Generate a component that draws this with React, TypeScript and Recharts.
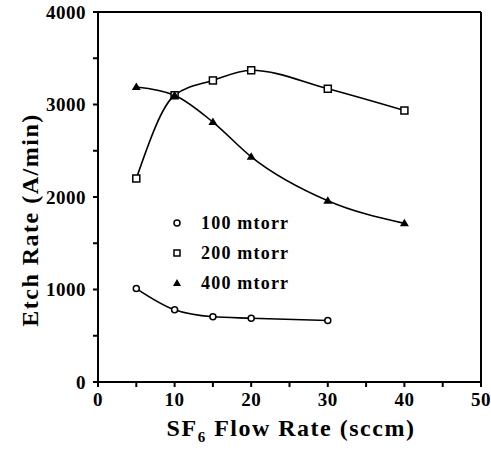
import { Line, LineChart, ReferenceLine, XAxis, YAxis } from "recharts";

const flowRates = [5, 10, 15, 20, 30, 40];
const rate100 = [1010, 780, 705, 690, 665];
const rate200 = [2200, 3100, 3260, 3370, 3170, 2935];
const rate400 = [3190, 3100, 2810, 2435, 1960, 1715];
// major + minor tick positions; minors get no label
const xTicks = [0, 5, 10, 15, 20, 25, 30, 35, 40, 45, 50];
const yTicks = [0, 500, 1000, 1500, 2000, 2500, 3000, 3500, 4000];
const seriesNames = ["100 mtorr", "200 mtorr", "400 mtorr"];

const data = flowRates.map((f, i) => ({
  flow: f,
  p100: rate100[i],
  p200: rate200[i],
  p400: rate400[i],
}));

const FONT = "'Liberation Serif', 'Times New Roman', serif";

function Circle(props: any) {
  const { cx, cy } = props;
  if (cx == null || cy == null) return null;
  return <circle cx={cx} cy={cy} r={3} fill="#fff" stroke="#000" strokeWidth={1.5} />;
}

function Square(props: any) {
  const { cx, cy } = props;
  if (cx == null || cy == null) return null;
  return (
    <rect x={cx - 3.5} y={cy - 3.5} width={7} height={7} fill="#fff" stroke="#000" strokeWidth={1.5} />
  );
}

function Triangle(props: any) {
  const { cx, cy } = props;
  if (cx == null || cy == null) return null;
  return <path d={`M${cx},${cy - 4.5}L${cx + 4.5},${cy + 3}L${cx - 4.5},${cy + 3}Z`} fill="#000" />;
}

// legend drawn inside the plot, like the original figure
function LegendBox() {
  const marks = [
    <circle cx={0} cy={0} r={3} fill="#fff" stroke="#000" strokeWidth={1.5} />,
    <rect x={-3} y={-3} width={6} height={6} fill="#fff" stroke="#000" strokeWidth={1.5} />,
    <path d="M0,-4L4,3L-4,3Z" fill="#000" />,
  ];
  return (
    <g>
      {seriesNames.map((n, i) => (
        <g key={n} transform={`translate(177, ${223 + i * 30})`}>
          {marks[i]}
          <text
            x={24}
            y={0}
            dominantBaseline="central"
            fontFamily={FONT}
            fontWeight="bold"
            fontSize={18}
            letterSpacing={1.2}
          >
            {n}
          </text>
        </g>
      ))}
    </g>
  );
}

export default function App() {
  const tickStyle = {
    fontFamily: FONT,
    fontWeight: "bold",
    fontSize: 19,
    fill: "#000",
    letterSpacing: 0.5,
  };
  return (
    <div style={{ position: "absolute", left: 0, top: 0, width: 491, height: 458, background: "#fff" }}>
      <LineChart width={491} height={458} data={data} margin={{ top: 12, right: 10, bottom: 36, left: 38 }}>
        <XAxis
          dataKey="flow"
          type="number"
          domain={[0, 50]}
          ticks={xTicks}
          tick={tickStyle}
          tickFormatter={(v: number) => (v % 10 === 0 ? String(v) : "")}
          tickSize={5}
          tickMargin={6}
          stroke="#000"
          strokeWidth={2}
          height={40}
          interval={0}
        />
        <YAxis
          type="number"
          domain={[0, 4000]}
          ticks={yTicks}
          tick={tickStyle}
          tickFormatter={(v: number) => (v % 1000 === 0 ? String(v) : "")}
          tickSize={5}
          tickMargin={7}
          stroke="#000"
          strokeWidth={2}
          width={60}
          interval={0}
        />
        <ReferenceLine y={4000} stroke="#000" strokeWidth={2} />
        <ReferenceLine x={50} stroke="#000" strokeWidth={2} />
        <Line
          dataKey="p100"
          type="monotone"
          stroke="#000"
          strokeWidth={1.6}
          dot={<Circle />}
          isAnimationActive={false}
        />
        <Line
          dataKey="p200"
          type="monotone"
          stroke="#000"
          strokeWidth={1.6}
          dot={<Square />}
          isAnimationActive={false}
        />
        <Line
          dataKey="p400"
          type="monotone"
          stroke="#000"
          strokeWidth={1.6}
          dot={<Triangle />}
          isAnimationActive={false}
        />
        <LegendBox />
        <text
          transform="translate(30, 220) rotate(-90)"
          textAnchor="middle"
          dominantBaseline="central"
          fontFamily={FONT}
          fontWeight="bold"
          fontSize={24}
          letterSpacing={1.5}
        >
          Etch Rate (A/min)
        </text>
        <text
          x={291}
          y={436}
          textAnchor="middle"
          fontFamily={FONT}
          fontWeight="bold"
          fontSize={24}
          letterSpacing={1.5}
        >
          SF
          <tspan fontSize={15} dy={6}>6</tspan>
          <tspan dy={-6}> Flow Rate (sccm)</tspan>
        </text>
      </LineChart>
    </div>
  );
}
